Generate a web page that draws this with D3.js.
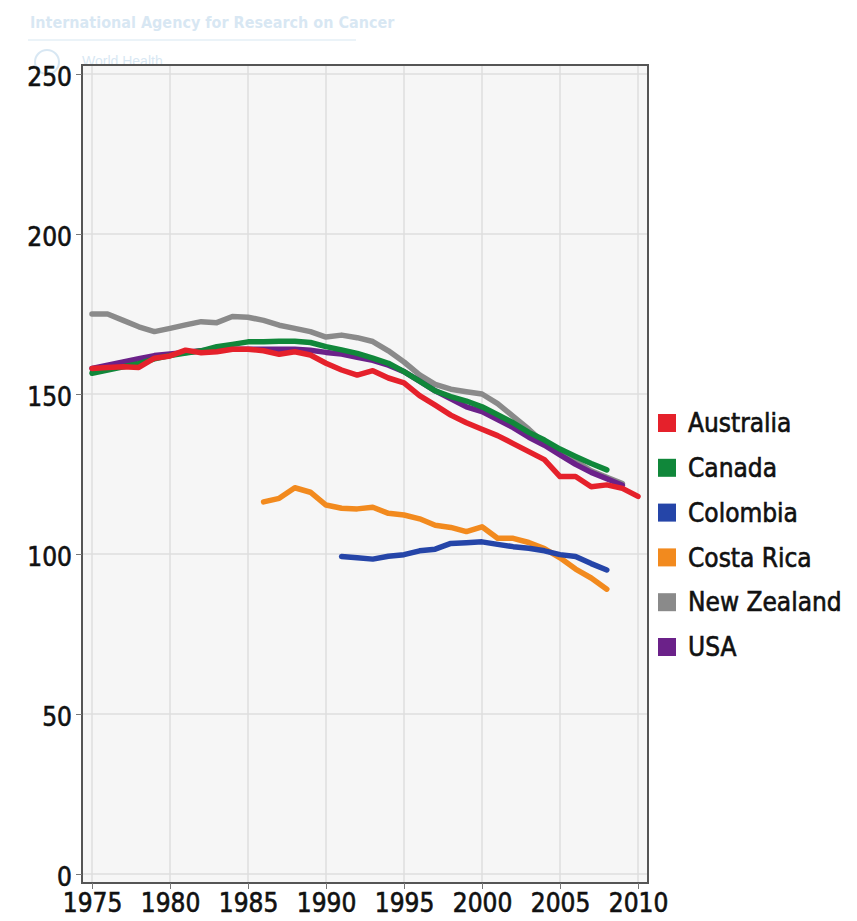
<!DOCTYPE html>
<html>
<head>
<meta charset="utf-8">
<style>
    body { margin: 0; background: #fff; }
    .tick text { font-family: "DejaVu Sans Condensed", "DejaVu Sans", sans-serif; font-size: 26px; fill: #111; stroke: #111; stroke-width: 0.6px; }
    .line { fill: none; stroke-width: 5.5; stroke-linejoin: round; stroke-linecap: round; }
</style>
</head>
<body>
<svg id="chart" width="857" height="921"></svg>
<script src="https://cdn.jsdelivr.net/npm/d3@7/dist/d3.min.js"></script>
<script>
// tick values
const xTicks = [1975, 1980, 1985, 1990, 1995, 2000, 2005, 2010]
const yTicks = [0, 50, 100, 150, 200, 250]

// series names (legend order) and colours
const countries = ["Australia", "Canada", "Colombia", "Costa Rica", "New Zealand", "USA"]
const colors = ["#e5212b", "#10873a", "#2545a8", "#f28a1e", "#8a8a8a", "#6b2189"]

// values, first year of each series + yearly values
const australiaStart = 1975
const australia = [158, 158.3, 158.5, 158.3, 161.2, 161.9, 163.7, 162.9, 163.2, 164, 164, 163.5, 162.4, 163.2, 162.2,
    159.6, 157.5, 155.9, 157.3, 155, 153.5, 149.5, 146.5, 143.4, 141, 139, 137, 134.5, 132, 129.5,
    124.2, 124.2, 121, 121.6, 120.5, 118]
const canadaStart = 1975
const canada = [156.5, 157.5, 158.5, 159.5, 161, 162, 162.8, 163.5, 164.8, 165.5, 166.3, 166.3, 166.5, 166.5, 166.1,
    164.8, 163.8, 162.7, 161.2, 159.6, 157, 154, 151, 149.2, 147.8, 146, 143.5, 141, 138, 135.6,
    132.8, 130.5, 128.3, 126.3]
const colombiaStart = 1991
const colombia = [99.2, 98.8, 98.4, 99.3, 99.8, 101, 101.5, 103.3, 103.5, 103.8, 103, 102.3, 101.8, 101,
    99.8, 99.2, 97, 95]
const costaRicaStart = 1986
const costaRica = [116.3, 117.4, 120.7, 119.3, 115.3, 114.3, 114.1, 114.6, 112.7, 112.2, 111, 109, 108.3, 107,
    108.5, 104.9, 104.9, 103.6, 101.7, 98.8, 95.3, 92.5, 89]
const newZealandStart = 1975
const newZealand = [175, 175, 173, 171, 169.5, 170.5, 171.6, 172.6, 172.3, 174.2, 174, 173, 171.5, 170.5, 169.5,
    167.8, 168.4, 167.6, 166.4, 163.5, 160, 156, 153, 151.5, 150.7, 150, 147, 143, 139, 134.5,
    131.5, 129, 126, 124, 122]
const usaStart = 1975
const usa = [158, 159, 160, 161, 162, 162.5, 163, 163.5, 164, 164, 164, 164, 164, 164, 163.7,
    163, 162.5, 161.5, 160.5, 159, 157, 154, 151, 148.5, 146, 144.5, 142, 139.5, 136.5, 134,
    131, 128, 125.5, 123.5, 121.5]

function toPoints(start, values) {
    return values.map((v, i) => ({ year: start + i, value: v }))
}

const series = [
    { name: "Australia", data: toPoints(australiaStart, australia) },
    { name: "Canada", data: toPoints(canadaStart, canada) },
    { name: "Colombia", data: toPoints(colombiaStart, colombia) },
    { name: "Costa Rica", data: toPoints(costaRicaStart, costaRica) },
    { name: "New Zealand", data: toPoints(newZealandStart, newZealand) },
    { name: "USA", data: toPoints(usaStart, usa) }
]
const colorOf = d3.scaleOrdinal().domain(countries).range(colors)

const svg = d3.select("#chart")

// faded logo header in the corner
const head = svg.append("g").attr("opacity", 0.3)
head.append("text").attr("x", 30).attr("y", 28)
    .style("font-family", "'Liberation Sans Narrow', 'DejaVu Sans Condensed', sans-serif")
    .style("font-size", "16px").style("font-weight", "bold").attr("fill", "#7fb2d8")
    .text("International Agency for Research on Cancer")
head.append("line").attr("x1", 28).attr("x2", 356).attr("y1", 40).attr("y2", 40)
    .attr("stroke", "#a9cbe4").attr("stroke-width", 1.5)
head.append("circle").attr("cx", 47).attr("cy", 62).attr("r", 12)
    .attr("fill", "none").attr("stroke", "#7fb2d8").attr("stroke-width", 2)
head.append("text").attr("x", 82).attr("y", 66)
    .style("font-family", "'Liberation Sans Narrow', sans-serif")
    .style("font-size", "14px").attr("fill", "#7fb2d8").text("World Health")

// plot frame
const frame = { left: 82, top: 65, right: 648, bottom: 883 }

const xScale = d3.scaleLinear().domain([1975, 2010]).range([92, 638])
const yScale = d3.scaleLinear().domain([0, 250]).range([874, 74])

svg.append("rect")
    .attr("x", frame.left).attr("y", frame.top)
    .attr("width", frame.right - frame.left).attr("height", frame.bottom - frame.top)
    .attr("fill", "#f6f6f6")

// grid
svg.append("g").selectAll("line").data(yTicks).join("line")
    .attr("x1", frame.left).attr("x2", frame.right)
    .attr("y1", d => yScale(d)).attr("y2", d => yScale(d))
    .attr("stroke", "#dedede").attr("stroke-width", 1.5)
svg.append("g").selectAll("line").data(xTicks).join("line")
    .attr("y1", frame.top).attr("y2", frame.bottom)
    .attr("x1", d => xScale(d)).attr("x2", d => xScale(d))
    .attr("stroke", "#dedede").attr("stroke-width", 1.5)

// lines, drawn back to front like the original
const valueline = d3.line().x(d => xScale(d.year)).y(d => yScale(d.value))
const drawOrder = ["New Zealand", "USA", "Costa Rica", "Colombia", "Canada", "Australia"]
svg.append("g").selectAll("path")
    .data(drawOrder.map(n => series.find(s => s.name == n)))
    .join("path")
    .attr("class", "line")
    .attr("stroke", d => colorOf(d.name))
    .attr("d", d => valueline(d.data))

// frame border
svg.append("rect")
    .attr("x", frame.left).attr("y", frame.top)
    .attr("width", frame.right - frame.left).attr("height", frame.bottom - frame.top)
    .attr("fill", "none").attr("stroke", "#555").attr("stroke-width", 2)

// axes
const yAxis = svg.append("g")
    .attr("transform", "translate(" + frame.left + ",0)")
    .call(d3.axisLeft(yScale).tickValues(yTicks).tickSize(6).tickPadding(4))
yAxis.select(".domain").remove()
yAxis.selectAll(".tick line").attr("stroke", "#777")
yAxis.selectAll(".tick text").attr("dy", "0.45em")

const xAxis = svg.append("g")
    .attr("transform", "translate(0," + frame.bottom + ")")
    .call(d3.axisBottom(xScale).tickValues(xTicks).tickFormat(d3.format("d")).tickSize(6).tickPadding(5))
xAxis.select(".domain").remove()
xAxis.selectAll(".tick line").attr("stroke", "#777")

// legend
const legend = svg.append("g").selectAll("g").data(countries).join("g")
    .attr("transform", (d, i) => "translate(658," + (423 + i * 44.8) + ")")
legend.append("rect").attr("x", 0).attr("y", -9).attr("width", 18).attr("height", 18)
    .attr("fill", d => colorOf(d))
legend.append("text").attr("x", 30).attr("dy", "0.35em")
    .style("font-family", "'DejaVu Sans Condensed', 'DejaVu Sans', sans-serif")
    .style("font-size", "26px").attr("fill", "#111")
    .attr("stroke", "#111").attr("stroke-width", 0.6)
    .text(d => d)
</script>
</body>
</html>
